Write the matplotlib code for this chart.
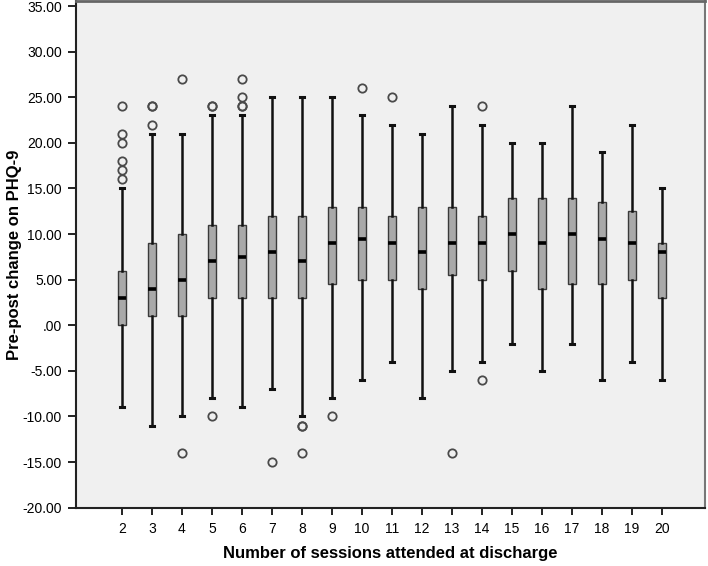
import numpy as np
import matplotlib
matplotlib.use('Agg')
import matplotlib.pyplot as plt
from matplotlib.ticker import FuncFormatter

plt.rcParams['font.family'] = ['Liberation Sans', 'DejaVu Sans']

# data
sessions = [2, 3, 4, 5, 6, 7, 8, 9, 10, 11, 12, 13, 14, 15, 16, 17, 18, 19, 20]
whis_lo = [-9, -11, -10, -8, -9, -7, -10, -8, -6, -4, -8, -5, -4, -2, -5, -2, -6, -4, -6]
q1 = [0, 1, 1, 3, 3, 3, 3, 4.5, 5, 5, 4, 5.5, 5, 6, 4, 4.5, 4.5, 5, 3]
median = [3, 4, 5, 7, 7.5, 8, 7, 9, 9.5, 9, 8, 9, 9, 10, 9, 10, 9.5, 9, 8]
q3 = [6, 9, 10, 11, 11, 12, 12, 13, 13, 12, 13, 13, 12, 14, 14, 14, 13.5, 12.5, 9]
whis_hi = [15, 21, 21, 23, 23, 25, 25, 25, 23, 22, 21, 24, 22, 20, 20, 24, 19, 22, 15]
outliers = [
    [24, 21, 20, 18, 17, 16],
    [24, 24, 22],
    [27, -14],
    [24, 24, -10],
    [27, 25, 24, 24],
    [-15],
    [-11, -11, -14],
    [-10],
    [26],
    [25],
    [],
    [-14],
    [24, -6],
    [], [], [], [], [], [],
]

stats = []
for i in range(len(sessions)):
    stats.append({'whislo': whis_lo[i], 'q1': q1[i], 'med': median[i], 'q3': q3[i],
                  'whishi': whis_hi[i], 'fliers': outliers[i]})

fig = plt.figure(figsize=(7.08, 5.66), dpi=100)
ax = fig.add_axes([76 / 708, 1 - 507.7 / 566, 629 / 708, 506.7 / 566])
ax.set_facecolor('#f0f0f0')

ax.bxp(stats, positions=sessions, widths=0.29, patch_artist=True,
       boxprops=dict(facecolor='#a9a9a9', edgecolor='#3a3a3a', linewidth=1.0),
       medianprops=dict(color='black', linewidth=2.6, solid_capstyle='butt'),
       whiskerprops=dict(color='#111111', linewidth=1.8),
       capprops=dict(color='#111111', linewidth=2.2),
       capwidths=0.12,
       flierprops=dict(marker='o', markerfacecolor='none', markeredgecolor='#4a4a4a',
                       markersize=6, markeredgewidth=1.3, linestyle='none'))

ax.set_xlim(0.47, 21.43)
ax.set_ylim(-20, 35.55)
ax.set_yticks(np.arange(-20, 36, 5))
ax.yaxis.set_major_formatter(FuncFormatter(lambda v, p: '.00' if v == 0 else f'{v:.2f}'))
ax.set_xticks(sessions)
ax.set_xticklabels([str(s) for s in sessions])
ax.tick_params(axis='y', length=5.8, width=1.4, color='#222222', labelsize=10, pad=4.3)
ax.tick_params(axis='x', length=5, width=1.4, color='#222222', labelsize=10, pad=5)

for side in ['left', 'bottom']:
    ax.spines[side].set_color('#222222')
    ax.spines[side].set_linewidth(1.5)
ax.spines['top'].set_color('#666666')
ax.spines['top'].set_linewidth(2)
ax.spines['right'].set_color('#777777')
ax.spines['right'].set_linewidth(1.5)

ax.set_xlabel('Number of sessions attended at discharge', fontsize=12, fontweight='bold')
ax.set_ylabel('Pre-post change on PHQ-9', fontsize=12, fontweight='bold')
ax.xaxis.set_label_coords(0.5, -0.0756)
ax.yaxis.set_label_coords(-0.086, 0.5)

plt.savefig('out.png', dpi=100)
